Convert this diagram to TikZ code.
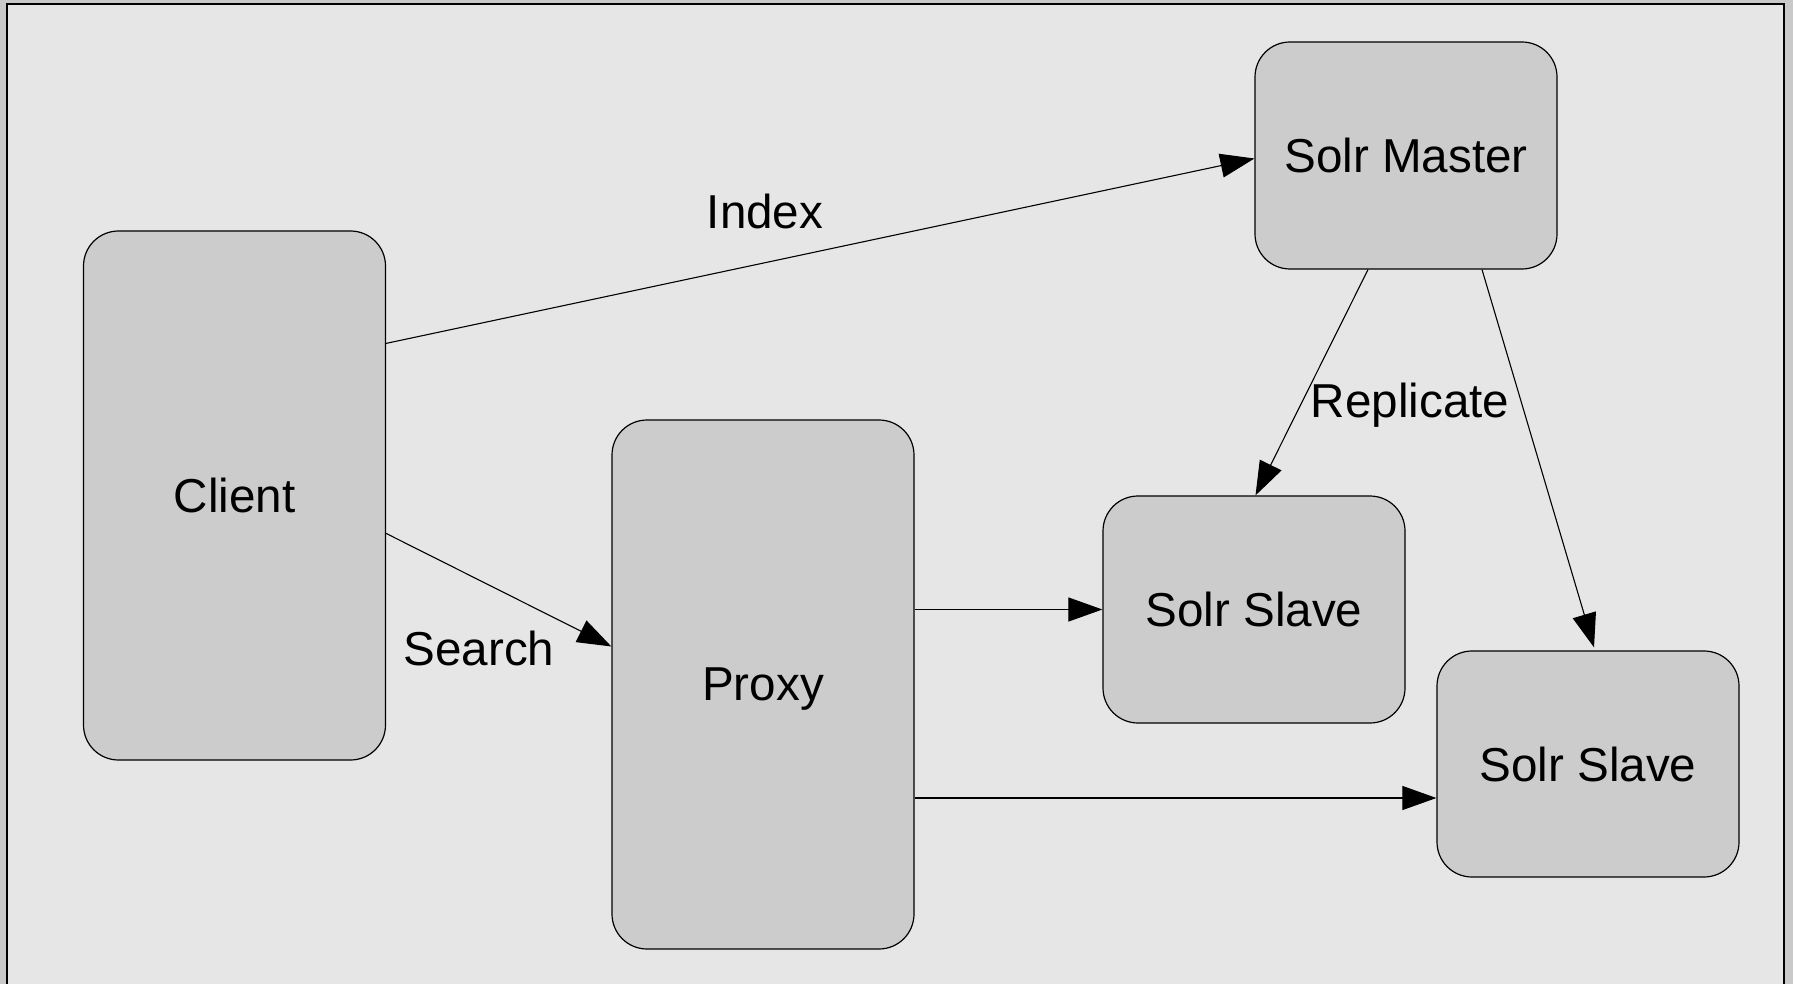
\documentclass[tikz,border=0pt]{standalone}
\usepackage{fontspec}
\setmainfont{Liberation Sans}
\usetikzlibrary{arrows.meta,calc}
\definecolor{outerbg}{HTML}{C9C9C9}
\definecolor{innerbg}{HTML}{E6E6E6}
\definecolor{boxfill}{HTML}{CCCCCC}
\tikzset{
  box/.style={draw=black, line width=0.6pt, fill=boxfill, rounded corners=17.5pt,
    minimum width=151pt, inner sep=0pt, text depth=0pt, font=\fontsize{23.8}{28}\selectfont},
  conn/.style={draw=black, line width=0.55pt, -{Triangle[length=17pt,width=12pt]}},
  lbl/.style={font=\fontsize{23.8}{28}\selectfont, inner sep=0pt, text depth=0pt}
}
\begin{document}
\begin{tikzpicture}[x=0.5pt,y=-0.5pt]
\useasboundingbox (0,0) rectangle (1793,984);
\fill[outerbg] (0,0) rectangle (1793,984);
\draw[fill=innerbg, line width=1pt] (7,4) rectangle (1784,1000);

\node[box, minimum height=264.5pt] (client) at (234.5,495.5) {Client};
\node[box, minimum height=113.5pt] (master) at (1406,155.5) {Solr Master};
\node[box, minimum height=264.5pt] (proxy) at (763,684.5) {Proxy};
\node[box, minimum height=113.5pt] (slave1) at (1254,609.5) {Solr Slave};
\node[box, minimum height=113pt] (slave2) at (1588,764) {Solr Slave};

\node[lbl] (lindex) at (765,211) {Index};
\node[lbl] (lsearch) at (479,648) {Search};
\node[lbl] (lrepl) at (1410,400) {Replicate};

\draw[conn] ($(client.north east)+(0,113)$) -- ($(master.west)+(0,3)$);
\draw[conn] ($(client.north east)+(0,303)$) -- ($(proxy.west)+(0,-38)$);
\draw[conn] (proxy.east |- slave1.west) -- (slave1.west);
\coordinate (s2in) at ($(slave2.west)+(0,34)$);
\draw[conn] (proxy.east |- s2in) -- (s2in);
\draw[conn] ($(master.south)+(-38,0)$) -- ($(slave1.north)+(1.5,0)$);
\draw[conn] ($(master.south)+(76,0)$) -- ($(slave2.north)+(6,-3)$);
\end{tikzpicture}
\end{document}
